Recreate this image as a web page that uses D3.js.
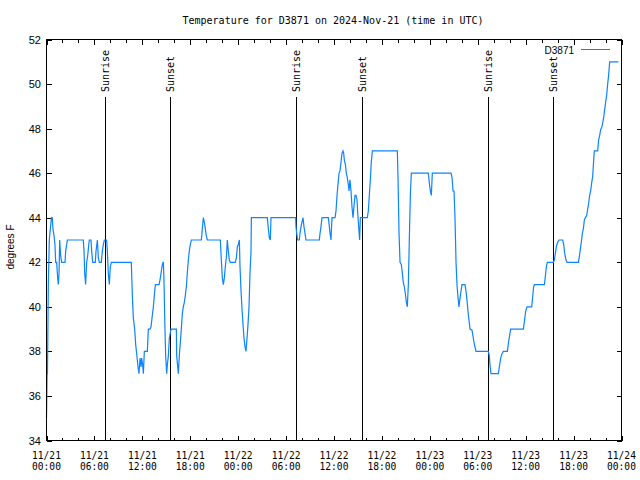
<!DOCTYPE html>
<html><head><meta charset="utf-8">
<script src="https://cdn.jsdelivr.net/npm/d3@7"></script>
<style>body{margin:0;background:#fff}svg{display:block}</style>
</head><body>
<svg id="chart" width="640" height="480"></svg>
<script>
const titleText = "Temperature for D3871 on 2024-Nov-21 (time in UTC)";
const seriesName = "D3871";
const yLabel = "degrees F";
const startTime = "2024-11-21T00:00:00Z";
const endTime = "2024-11-24T00:00:00Z";
const yTicks = [34, 36, 38, 40, 42, 44, 46, 48, 50, 52];
const sunLabels = ["Sunrise", "Sunset", "Sunrise", "Sunset", "Sunrise", "Sunset"];
const sunTimes = ["2024-11-21T07:22Z", "2024-11-21T15:30Z", "2024-11-22T07:12Z", "2024-11-22T15:33Z", "2024-11-23T07:19Z", "2024-11-23T15:28Z"];
// hours after 2024-11-21 00:00 UTC
const hours = [0.00,0.08,0.12,0.23,0.35,0.48,0.62,0.72,0.81,0.94,1.06,1.15,1.27,1.40,1.48,1.57,1.65,1.77,1.90,2.32,2.40,2.53,2.61,4.61,4.70,4.78,4.90,5.03,5.16,5.28,5.36,5.57,5.66,5.78,6.11,6.20,6.37,6.49,6.62,6.87,6.99,7.12,7.24,7.53,7.62,7.74,7.87,7.99,8.12,10.62,10.75,10.87,11.04,11.17,11.29,11.46,11.58,11.71,11.83,11.92,12.04,12.13,12.25,12.63,12.75,12.96,13.09,13.21,13.38,13.50,13.63,14.09,14.21,14.34,14.46,14.59,14.63,14.71,14.80,14.92,15.05,15.13,15.26,15.38,15.59,16.26,16.30,16.43,16.51,16.63,16.76,16.88,17.01,17.13,17.26,17.38,17.51,17.63,17.76,17.88,18.01,18.14,19.39,19.51,19.64,19.76,19.89,20.01,20.14,21.77,21.89,22.02,22.14,22.27,22.39,22.52,22.64,22.77,22.89,23.02,23.64,23.77,23.90,24.02,24.15,24.23,24.36,24.48,24.61,24.73,24.86,24.98,25.11,25.23,25.36,25.48,25.61,25.65,27.65,27.78,27.90,28.03,28.11,31.20,31.24,31.33,31.45,31.66,31.74,31.87,31.99,32.12,32.24,32.37,32.49,34.16,34.25,34.37,34.50,35.29,35.42,35.50,35.62,35.75,36.13,36.25,36.38,36.50,36.63,36.75,36.88,37.00,37.13,37.21,37.29,37.42,37.54,37.67,37.79,37.88,38.00,38.13,38.25,38.38,38.50,38.63,38.76,38.88,39.01,39.13,39.21,39.30,40.17,40.30,40.42,40.55,40.67,40.80,43.93,44.02,44.14,44.27,44.43,44.56,44.68,44.81,44.93,45.06,45.18,45.31,45.43,45.56,45.68,47.81,47.94,48.06,48.19,48.31,50.65,50.78,50.90,51.03,51.15,51.28,51.40,51.53,51.65,51.78,51.90,52.03,52.40,52.53,52.65,52.78,52.90,53.03,53.28,53.40,53.53,53.65,53.78,55.33,55.45,55.53,55.66,56.58,56.70,56.87,57.04,57.20,57.71,57.83,57.96,58.12,59.71,59.83,60.00,60.17,60.75,60.88,61.00,61.09,62.34,62.46,62.59,62.71,63.46,63.59,63.72,63.84,64.01,64.17,64.63,64.76,64.88,65.05,65.18,66.60,66.72,66.85,66.97,67.10,67.22,67.35,67.47,67.64,67.77,67.89,68.01,68.14,68.26,68.39,68.52,68.60,69.02,69.14,69.27,69.39,69.56,69.64,69.77,69.89,70.02,70.14,70.27,70.39,70.52,71.61];
const temps = [35,37,37,41,43,43.5,44,44,43.5,43.2,42.8,42,42,41.3,41,41.5,43,42.3,42,42,42.5,42.8,43,43,42.5,41.5,41,42,42.3,42.75,43,43,42.5,42,42,42.5,43,42.2,42,42,42.5,42.8,43,43,42.5,41.5,41,41.8,42,42,40.5,39.5,39,38.3,37.9,37.3,37,37.7,37.3,37.7,37.4,37,38,38,39,39,39.1,39.5,40,40.5,41,41,41.2,41.5,41.8,42,42,41.2,39.5,37.8,37,37.4,37.8,38.6,39,39,37.8,37.3,37,37.8,38.4,39,39.7,40,40.2,40.5,40.9,41.5,42.1,42.5,42.8,43,43,43.5,44,43.8,43.5,43.2,43,43,42.1,41.3,41,41.3,41.8,42.2,43,42.5,42.1,42,42,42.2,42.7,42.8,43,41.8,40.7,39.9,39.2,38.6,38.2,38,38.6,39.2,40,41.5,42.5,44,44,43.5,43.1,43,44,44,43.6,43.3,43,43,43.3,43.6,43.8,44,43.6,43.3,43,43,43.3,43.6,44,44,43.6,43.3,43,44,44,44.3,45,45.5,46,46.1,46.5,46.9,47,46.9,46.6,46.4,46,45.8,45.5,45.2,45.7,45.2,44.5,44,44.5,45,45,44.8,44,43.4,43,44,44,44.3,45,45.7,46.5,47,47,45.75,43.3,42,41.9,41.5,41.1,40.9,40.6,40.2,40,41,43,45,46,46,45.55,45.2,45,46,46,45.8,45.2,45.2,44,42,41,40.4,40,40.4,40.7,41,41,40.7,40.3,39.8,39.4,39,38.95,38.7,38.4,38.2,38,38,37.8,37.4,37,37,37.3,37.7,37.9,38,38,38.35,38.65,39,39,39.3,39.8,40,40,40.45,40.9,41,41,41.35,41.8,42,42,42.1,42.4,42.7,42.9,43,43,42.8,42.4,42.1,42,42,42.25,42.6,42.9,43.3,43.5,43.9,44,44.1,44.4,44.65,45,45.2,45.55,45.85,46.6,47,47,47.5,47.7,47.95,48.1,48.25,48.5,48.85,49.2,49.5,50,50.4,51,51];

const t0 = new Date(startTime);
const data = hours.map((h, i) => ({t: new Date(t0.getTime() + h * 3600000), v: temps[i]}));

const svg = d3.select("#chart");
svg.append("rect").attr("width", 640).attr("height", 480).attr("fill", "#fff");

const L = 46.5, R = 621.5, T = 39.5, B = 440.5;
const x = d3.scaleUtc().domain([new Date(startTime), new Date(endTime)]).range([L, R]);
const y = d3.scaleLinear().domain([34, 52]).range([B, T]);

const mono = "'DejaVu Sans Mono', 'Liberation Mono', monospace";
const sans = "'Liberation Sans', Arial, sans-serif";

// title
svg.append("text").attr("x", 333).attr("y", 24).attr("text-anchor", "middle")
  .attr("font-family", mono).attr("font-size", "10px").attr("fill", "#000").text(titleText);

// axes: bottom / top
const majorX = x.ticks(d3.utcHour.every(6));
const minorX = x.ticks(d3.utcHour.every(2)).filter(d => d.getUTCHours() % 6 !== 0);
const fmtD = d3.utcFormat("%m/%d"), fmtT = d3.utcFormat("%H:%M");

const gB = svg.append("g").attr("transform", `translate(0,${B})`);
gB.call(d3.axisBottom(x).tickValues(majorX).tickSize(-5).tickFormat(""));
gB.append("g").call(d3.axisBottom(x).tickValues(minorX).tickSize(-3).tickFormat(""));
const gT = svg.append("g").attr("transform", `translate(0,${T})`);
gT.call(d3.axisTop(x).tickValues(majorX).tickSize(-5).tickFormat(""));
gT.append("g").call(d3.axisTop(x).tickValues(minorX).tickSize(-3).tickFormat(""));
const gL = svg.append("g").attr("transform", `translate(${L},0)`);
gL.call(d3.axisLeft(y).tickValues(yTicks).tickSize(-5).tickFormat(""));
const gR = svg.append("g").attr("transform", `translate(${R},0)`);
gR.call(d3.axisRight(y).tickValues(yTicks).tickSize(-5).tickFormat(""));
svg.selectAll(".domain").remove();
svg.selectAll(".tick line").attr("stroke", "#000").attr("shape-rendering", "crispEdges");

// x tick labels
const xl = svg.append("g");
majorX.forEach(d => {
  const t = xl.append("text").attr("text-anchor", "middle").attr("font-family", mono)
    .attr("font-size", "9.6px").attr("fill", "#000");
  t.append("tspan").attr("x", x(d)).attr("y", 459).text(fmtD(d));
  t.append("tspan").attr("x", x(d)).attr("y", 470).text(fmtT(d));
});
// y tick labels
svg.append("g").selectAll("text").data(yTicks).join("text")
  .attr("x", 41).attr("y", d => y(d) + 4).attr("text-anchor", "end")
  .attr("font-family", sans).attr("font-size", "11px").attr("fill", "#000").text(d => d);

// y label
svg.append("text").attr("transform", "translate(14,247) rotate(-90)").attr("text-anchor", "middle")
  .attr("font-family", sans).attr("font-size", "10px").attr("fill", "#000").text(yLabel);

// sunrise / sunset markers
sunTimes.forEach((s, i) => {
  const xp = Math.round(x(new Date(s))) + 0.5;
  svg.append("line").attr("x1", xp).attr("x2", xp).attr("y1", 97).attr("y2", B)
    .attr("stroke", "#000").attr("stroke-width", 1).attr("shape-rendering", "crispEdges");
  svg.append("text").attr("transform", `translate(${xp},92) rotate(-90)`).attr("dy", "0.35em")
    .attr("font-family", mono).attr("font-size", "10px").attr("fill", "#000").text(sunLabels[i]);
});

// data line
svg.append("path").datum(data)
  .attr("d", d3.line().x(d => x(d.t)).y(d => y(d.v)))
  .attr("fill", "none").attr("stroke", "#0a84ff").attr("stroke-width", 1.2);

// legend
svg.append("text").attr("x", 574).attr("y", 53.5).attr("text-anchor", "end")
  .attr("font-family", sans).attr("font-size", "10px").attr("fill", "#000").text(seriesName);
svg.append("line").attr("x1", 581).attr("x2", 610).attr("y1", 49.5).attr("y2", 49.5)
  .attr("stroke", "#0a84ff").attr("stroke-width", 1);

// frame
svg.append("rect").attr("x", L).attr("y", T).attr("width", R - L).attr("height", B - T)
  .attr("fill", "none").attr("stroke", "#000").attr("shape-rendering", "crispEdges");
</script>
</body></html>
